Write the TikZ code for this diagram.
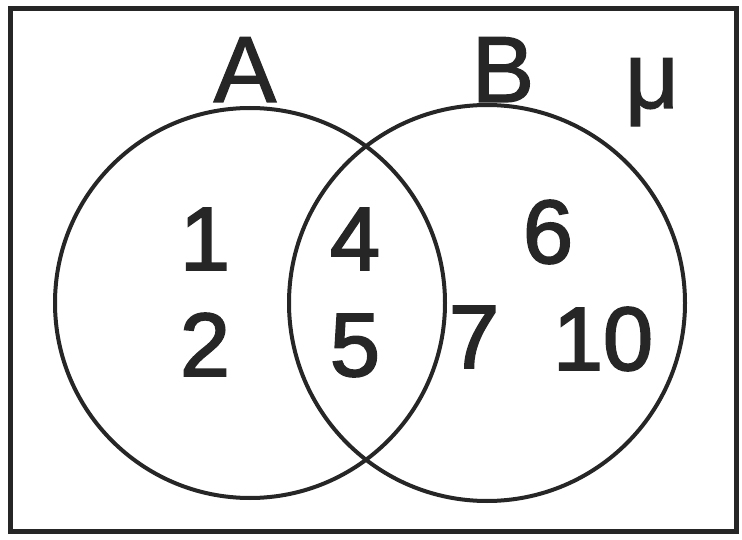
\documentclass[tikz,border=0pt]{standalone}
\usepackage{fontspec}
\setmainfont{Liberation Sans}
\newfontfamily\digfont[FakeBold=2.2]{Liberation Sans}
\newfontfamily\letfont[FakeBold=1.4]{Liberation Sans}
\begin{document}
\begin{tikzpicture}[x=1pt,y=-1pt,
  setline/.style={draw=black!85,line width=4pt},
  lbl/.style={font=\fontsize{90}{92}\digfont,inner sep=0pt,text=black!85},
  setname/.style={font=\fontsize{94}{96}\letfont,inner sep=0pt,text=black!85}]
\useasboundingbox (0,0) rectangle (742,540);
\draw[draw=black!85,line width=5pt] (10,9) rectangle (736,531);
\node[setline,circle,minimum size=390pt,inner sep=0pt] (A) at (250,303) {};
\node[setline,circle,minimum size=396pt,inner sep=0pt] (B) at (487,303) {};
\node[setname,anchor=base] (la) at (245,102) {A};
\node[setname,anchor=base] (lb) at (503,102) {B};
\node[setname,anchor=base] (mu) at (652,108) {μ};
\node[lbl,anchor=base] (n1) at (205,270) {1};
\node[lbl,anchor=base] (n4) at (355,270) {4};
\node[lbl,anchor=base] (n6) at (548,263) {6};
\node[lbl,anchor=base] (n2) at (205,376) {2};
\node[lbl,anchor=base] (n5) at (355,376) {5};
\node[lbl,anchor=base] (n7) at (474,368) {7};
\node[lbl,anchor=base] (n10) at (603,370) {10};
\end{tikzpicture}
\end{document}
